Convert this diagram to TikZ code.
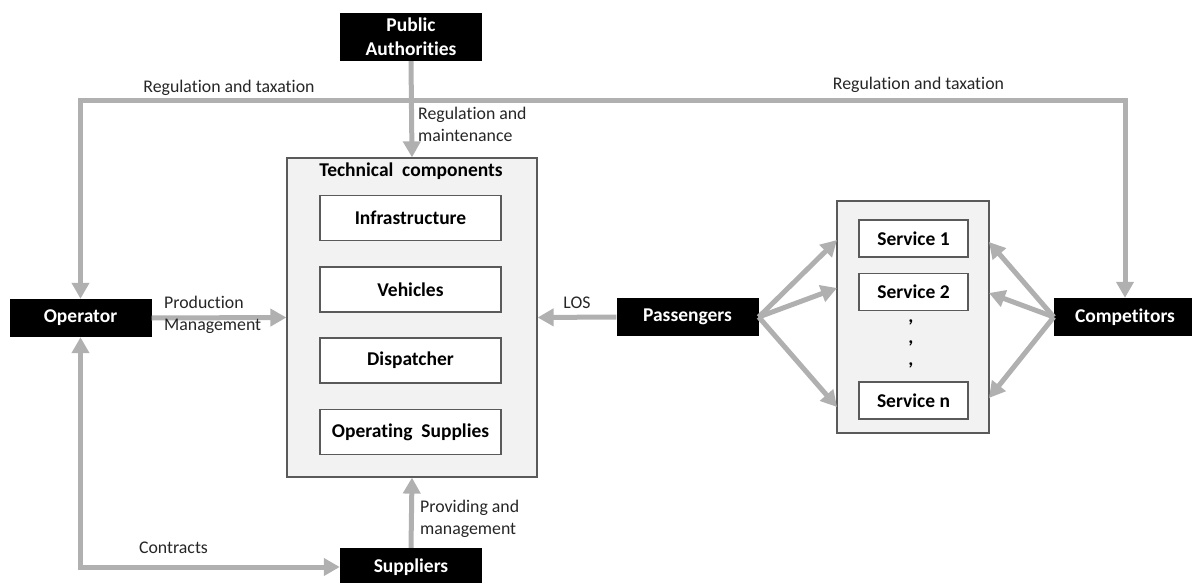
\documentclass[tikz,border=0pt]{standalone}
\usepackage{fontspec}
\setmainfont{Carlito}[Ligatures=NoCommon]
\usetikzlibrary{arrows.meta}

\definecolor{arrowgray}{HTML}{B0B0B0}
\definecolor{boxgray}{HTML}{F2F2F2}
\definecolor{linegray}{HTML}{5A5A5A}

\begin{document}
\begin{tikzpicture}[x=1pt, y=-1pt]

\tikzset{actor/.style = {fill=black, text=white, font=\fontsize{19.5}{24}\selectfont\bfseries, align=center, minimum width=142pt, minimum height=38pt, inner sep=0pt}}
\tikzset{part/.style = {draw=linegray, line width=1.2pt, fill=white, font=\fontsize{19.5}{24}\selectfont\bfseries, minimum width=181pt, minimum height=45pt, inner sep=0pt}}
\tikzset{service/.style = {part, minimum width=109pt, minimum height=37pt}}
\tikzset{group/.style = {draw=linegray, line width=1.2pt, fill=boxgray, inner sep=0pt}}
\tikzset{note/.style = {font=\fontsize{17.8}{22}\selectfont, text=black!85, inner sep=0pt, align=left}}
\tikzset{flow/.style = {draw=arrowgray, line width=5pt, -{Triangle[length=16pt, width=17pt]}}}
\tikzset{twoway/.style = {flow, {Triangle[length=16pt, width=17pt]}-{Triangle[length=16pt, width=17pt]}}}

\useasboundingbox (0,0) rectangle (1192,583);

%boxes
\node[group, minimum width=250pt, minimum height=319pt] (tech) at (412,317.5) {};
\node[group, minimum width=152pt, minimum height=232pt] (svc) at (913,317) {};
\node[font=\fontsize{19.5}{24}\selectfont\bfseries, inner sep=0pt] (techtitle) at (411,171) {Technical\ \ components};
\node[part] (infra) at (410.5,218) {Infrastructure};
\node[part] (veh) at (410.5,289.5) {Vehicles};
\node[part] (disp) at (410.5,360.5) {Dispatcher};
\node[part] (opsup) at (410.5,432) {Operating\ \ Supplies};
\node[service] (s1) at (913.5,238.5) {Service 1};
\node[service] (s2) at (913.5,292) {Service 2};
\node[service] (sn) at (913.5,400.5) {Service n};
\node[font=\fontsize{19.5}{24}\selectfont\bfseries, inner sep=0pt] (dot1) at (911,322) {,};
\node[font=\fontsize{19.5}{24}\selectfont\bfseries, inner sep=0pt] (dot2) at (911,343) {,};
\node[font=\fontsize{19.5}{24}\selectfont\bfseries, inner sep=0pt] (dot3) at (911,365) {,};

%actors
\node[actor, minimum height=48pt] (pa) at (411,37) {Public\\Authorities};
\node[actor] (op) at (80.5,318) {Operator};
\node[actor] (sup) at (411,567) {Suppliers};
\node[actor] (pas) at (687.5,317) {Passengers};
\node[actor] (comp) at (1125,317) {Competitors};

%arrows
\coordinate (split) at (411,101);
\draw[flow] (pa.south) -- (tech.north);
\draw[flow] (split) -| (op.north);
\draw[flow] (split) -| (comp.north);
\draw[flow] (op.east) -- (tech.west);
\draw[flow] (pas.west) -- (tech.east);
\draw[flow] (sup.north) -- (tech.south);
\draw[twoway] (op.south) |- (sup.west);

\coordinate (in1) at (837,240);
\coordinate (in2) at (837,288);
\coordinate (in3) at (837,407);
\coordinate (out1) at (989,242);
\coordinate (out2) at (989,293);
\coordinate (out3) at (989,398);
\draw[flow] (pas.east) -- (in1);
\draw[flow] (pas.east) -- (in2);
\draw[flow] (pas.east) -- (in3);
\draw[flow] (comp.west) -- (out1);
\draw[flow] (comp.west) -- (out2);
\draw[flow] (comp.west) -- (out3);

%labels
\node[note] (taxl) at (229,88) {Regulation and taxation};
\node[note] (taxr) at (918.5,85) {Regulation and taxation};
\node[note, anchor=west] (maint) at (418,124) {Regulation and\\maintenance};
\node[note, anchor=west] (prod) at (164,315) {Production\\Management};
\node[note] (los) at (577,303) {LOS};
\node[note] (contr) at (173.5,548) {Contracts};
\node[note, anchor=west] (prov) at (420,519) {Providing and\\management};

\end{tikzpicture}
\end{document}
